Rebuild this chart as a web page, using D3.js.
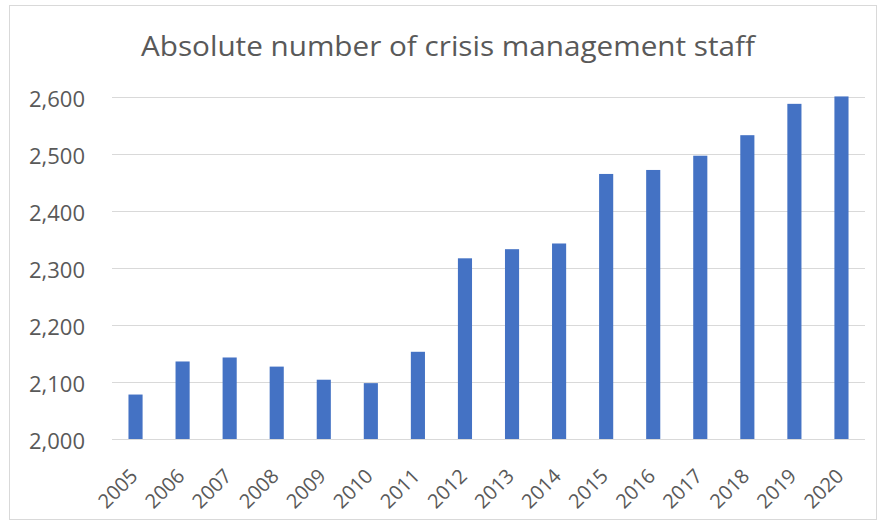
<!DOCTYPE html>
<html>
<head>
<meta charset="utf-8">
<script src="https://cdn.jsdelivr.net/npm/d3@7"></script>
<style>
  html, body { margin: 0; padding: 0; background: #fff; }
  svg { display: block; }
</style>
</head>
<body>
<svg id="chart" width="879" height="530"></svg>
<script>
// Crisis management staff, absolute headcount per year
const years = ["2005","2006","2007","2008","2009","2010","2011","2012",
               "2013","2014","2015","2016","2017","2018","2019","2020"];
const staff = [2078, 2136, 2143, 2127, 2104, 2098, 2153, 2317,
               2333, 2343, 2465, 2472, 2497, 2533, 2588, 2601];
const yTicks = [2000, 2100, 2200, 2300, 2400, 2500, 2600];
const title = "Absolute number of crisis management staff";

const svg = d3.select("#chart");
const textColor = "#595959";
const font = "'Open Sans', 'Noto Sans', sans-serif";

// chart frame
svg.append("rect")
  .attr("x", 9.5).attr("y", 5.5)
  .attr("width", 867).attr("height", 514)
  .attr("fill", "#fff")
  .attr("stroke", "#d9d9d9").attr("stroke-width", 1);

const plot = { left: 112, right: 865, top: 97, bottom: 439 };

const x = d3.scaleBand()
  .domain(years)
  .range([plot.left, plot.right])
  .paddingInner(0.7)
  .paddingOuter(0.35);

const y = d3.scaleLinear()
  .domain([2000, 2600])
  .range([plot.bottom, plot.top]);

// title
svg.append("text")
  .attr("x", 448).attr("y", 56)
  .attr("text-anchor", "middle")
  .attr("font-family", font)
  .attr("font-size", 28)
  .attr("fill", textColor)
  .attr("textLength", 614)
  .attr("lengthAdjust", "spacingAndGlyphs")
  .text(title);

// horizontal gridlines and value labels
const yAxis = d3.axisLeft(y)
  .tickValues(yTicks)
  .tickFormat(d3.format(","))
  .tickSize(-(plot.right - plot.left))
  .tickPadding(27);

const gy = svg.append("g")
  .attr("transform", `translate(${plot.left},0)`)
  .call(yAxis);
gy.select(".domain").remove();
gy.selectAll(".tick line").attr("stroke", "#d9d9d9").attr("stroke-width", 1);
gy.selectAll(".tick text")
  .attr("font-family", font)
  .attr("font-size", 22)
  .attr("fill", textColor)
  .attr("dy", "0.45em");

// bars
svg.append("g")
  .selectAll("rect")
  .data(years.map((yr, i) => ({ yr, v: staff[i] })))
  .join("rect")
  .attr("x", d => x(d.yr))
  .attr("width", x.bandwidth())
  .attr("y", d => y(d.v))
  .attr("height", d => y(2000) - y(d.v))
  .attr("fill", "#4472c4");

// category labels, rotated
const xAxis = d3.axisBottom(x).tickSize(0).tickPadding(0);
const gx = svg.append("g")
  .attr("transform", `translate(0,${plot.bottom})`)
  .call(xAxis);
gx.select(".domain").remove();
gx.selectAll(".tick text")
  .attr("font-family", font)
  .attr("font-size", 20)
  .attr("fill", textColor)
  .attr("text-anchor", "end")
  .attr("dy", null)
  .attr("y", 0)
  .attr("transform", "translate(-2,33) rotate(-45)")
  .attr("dominant-baseline", "central");
</script>
</body>
</html>
